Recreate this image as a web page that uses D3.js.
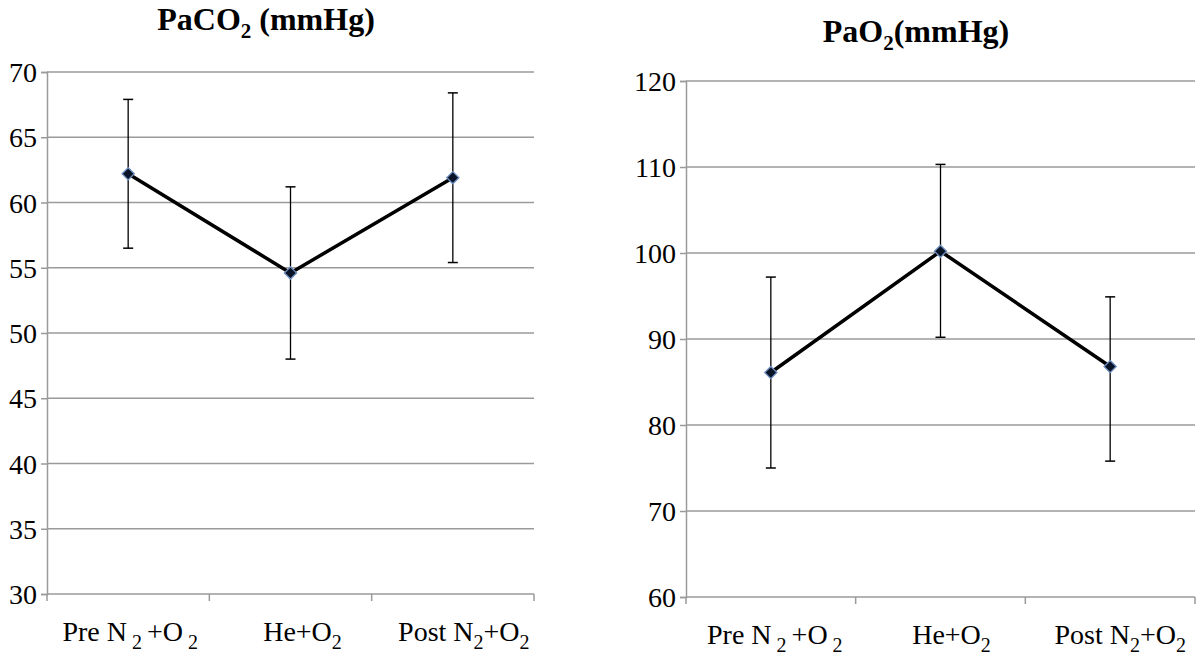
<!DOCTYPE html>
<html>
<head>
<meta charset="utf-8">
<script src="https://cdn.jsdelivr.net/npm/d3@7"></script>
<style>
  html, body { margin: 0; padding: 0; background: #fff; }
  svg { display: block; }
  text, tspan { font-family: "Liberation Serif", "Times New Roman", serif; fill: #000; white-space: pre; }
</style>
</head>
<body>
<svg id="chart" width="1200" height="655"></svg>
<script>
// ---- Data ----
const categories = ["Pre", "He", "Post"];
const categoryLabels = [
  [["Pre N", 0], [" 2 ", 1], ["+O", 0], [" 2", 1]],
  [["He+O", 0], ["2", 1]],
  [["Post N", 0], ["2", 1], ["+O", 0], ["2", 1]]
];

const paco2Mean = [62.2, 54.6, 61.9];
const paco2Low  = [56.5, 48.0, 55.4];
const paco2High = [67.9, 61.2, 68.4];
const paco2Ticks = [30, 35, 40, 45, 50, 55, 60, 65, 70];

const pao2Mean = [86.1, 100.2, 86.8];
const pao2Low  = [75.0, 90.2, 75.8];
const pao2High = [97.2, 110.3, 94.9];
const pao2Ticks = [60, 70, 80, 90, 100, 110, 120];

const svg = d3.select("#chart");
const SERIF = '"Liberation Serif", "Times New Roman", serif';

function richText(sel, parts, size, subSize, shift) {
  parts.forEach(([s, sub], k) => {
    const ts = sel.append("tspan").text(s).style("font-size", (sub ? subSize : size) + "px");
    if (sub && !(k > 0 && parts[k - 1][1])) ts.attr("dy", shift);
    if (!sub && k > 0 && parts[k - 1][1]) ts.attr("dy", -shift);
  });
}

function panel(opts) {
  const g = svg.append("g");
  const x = d3.scaleBand().domain(categories).range([opts.x0, opts.x1]).padding(0);
  const y = d3.scaleLinear().domain(opts.domain).range([opts.y0, opts.y1]);

  // gridlines
  g.selectAll(".grid").data(opts.ticks).enter().append("line")
    .attr("x1", opts.x0).attr("x2", opts.x1)
    .attr("y1", d => y(d)).attr("y2", d => y(d))
    .attr("stroke", "#9a9a9a").attr("stroke-width", 1.5);

  // y axis
  const yAxis = d3.axisLeft(y).tickValues(opts.ticks).tickSize(6).tickPadding(4);
  const ya = g.append("g").attr("transform", `translate(${opts.x0},0)`).call(yAxis)
    .attr("font-family", SERIF).attr("font-size", 28);
  ya.select(".domain").attr("stroke", "#9a9a9a").attr("stroke-width", 1.5);
  ya.selectAll(".tick line").attr("stroke", "#9a9a9a").attr("stroke-width", 1.5);
  ya.selectAll(".tick text").style("font-family", SERIF)
    .style("font-size", "28px").attr("fill", "#000").attr("dy", "0.34em");

  // x axis ticks at category boundaries
  const bounds = categories.map(c => x(c)).concat([opts.x1]);
  g.selectAll(".xt").data(bounds).enter().append("line")
    .attr("x1", d => d).attr("x2", d => d)
    .attr("y1", opts.y0).attr("y2", opts.y0 + 7)
    .attr("stroke", "#9a9a9a").attr("stroke-width", 1.5);

  // x labels
  categoryLabels.forEach((parts, i) => {
    const cx = x(categories[i]) + x.bandwidth() / 2 + opts.labelShift[i];
    const t = g.append("text").attr("x", cx).attr("y", opts.y0 + 47)
      .attr("text-anchor", "middle");
    richText(t, parts, 28, 20, 8);
  });

  // error bars
  const cxs = categories.map(c => x(c) + x.bandwidth() / 2);
  const eb = g.append("g");
  categories.forEach((c, i) => {
    eb.append("line").attr("x1", cxs[i]).attr("x2", cxs[i])
      .attr("y1", y(opts.low[i])).attr("y2", y(opts.high[i]))
      .attr("stroke", "#000").attr("stroke-width", 1.3);
    [opts.low[i], opts.high[i]].forEach(v => {
      eb.append("line").attr("x1", cxs[i] - 5).attr("x2", cxs[i] + 5)
        .attr("y1", y(v)).attr("y2", y(v))
        .attr("stroke", "#000").attr("stroke-width", 1.5);
    });
  });

  // line
  const line = d3.line().x((d, i) => cxs[i]).y(d => y(d));
  g.append("path").datum(opts.mean).attr("d", line)
    .attr("fill", "none").attr("stroke", "#000").attr("stroke-width", 3.5);

  // markers
  g.selectAll(".mk").data(opts.mean).enter().append("path")
    .attr("d", d3.symbol().type(d3.symbolDiamond2 || d3.symbolDiamond).size(95))
    .attr("transform", (d, i) => `translate(${cxs[i]},${y(d)})`)
    .attr("fill", "#0a1428").attr("stroke", "#6f8fbf").attr("stroke-width", 1.3);

  // title
  const tt = g.append("text").attr("x", opts.titleX).attr("y", opts.titleY)
    .attr("text-anchor", "middle").style("font-weight", "bold");
  richText(tt, opts.title, 32, 21, 8);
}

panel({
  x0: 47, x1: 534, y0: 594, y1: 72, domain: [30, 70], ticks: paco2Ticks,
  mean: paco2Mean, low: paco2Low, high: paco2High,
  title: [["PaCO", 0], ["2", 1], [" (mmHg)", 0]], titleX: 266, titleY: 30,
  labelShift: [2, 12, 11]
});

panel({
  x0: 686, x1: 1195, y0: 597, y1: 81, domain: [60, 120], ticks: pao2Ticks,
  mean: pao2Mean, low: pao2Low, high: pao2High,
  title: [["PaO", 0], ["2", 1], ["(mmHg)", 0]], titleX: 916, titleY: 42,
  labelShift: [4, 11, 10]
});
</script>
</body>
</html>
